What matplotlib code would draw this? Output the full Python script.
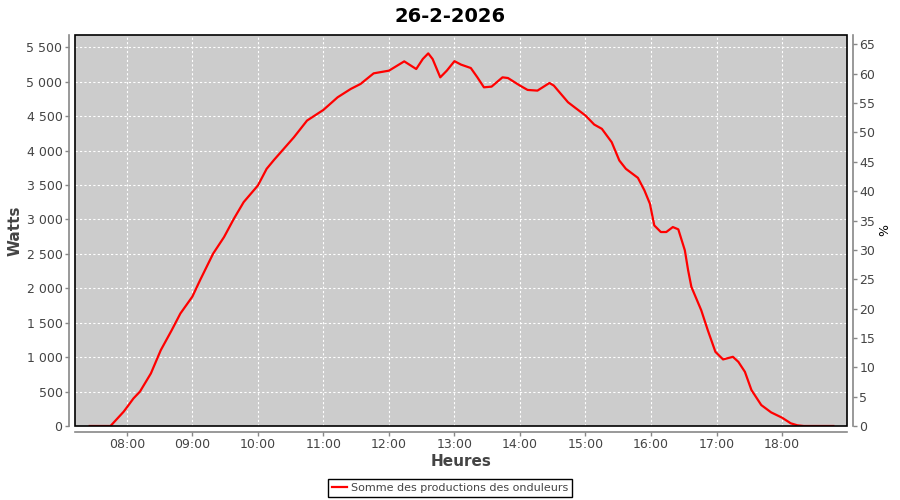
import matplotlib
matplotlib.use('Agg')
import matplotlib.pyplot as plt
import matplotlib.dates as mdates
from matplotlib.patches import Rectangle
from matplotlib.ticker import FuncFormatter, MultipleLocator
import pandas as pd

TITLE = '26-2-2026'
SERIES_LABEL = 'Somme des productions des onduleurs'

times = [
    '07:26', '07:45', '07:57', '08:00', '08:06', '08:12', '08:22', '08:31', '08:41', '08:49',
    '09:00', '09:07', '09:19', '09:29', '09:38', '09:47', '10:00', '10:08', '10:15', '10:21',
    '10:33', '10:45', '11:00', '11:13', '11:25', '11:34', '11:46', '12:00', '12:05', '12:14',
    '12:25', '12:31', '12:36', '12:40', '12:47', '12:53', '13:00', '13:06', '13:15', '13:21',
    '13:27', '13:34', '13:44', '13:49', '14:00', '14:07', '14:16', '14:27', '14:31', '14:44',
    '14:50', '15:00', '15:08', '15:15', '15:24', '15:31', '15:37', '15:48', '15:54', '15:59',
    '16:03', '16:09', '16:14', '16:20', '16:25', '16:31', '16:34', '16:37', '16:46', '16:52',
    '16:59', '17:06', '17:15', '17:20', '17:26', '17:32', '17:41', '17:50', '18:00', '18:08',
    '18:14', '18:20', '18:47',
]
watts = [
    0, 0, 207, 270, 400, 500, 764, 1100, 1390, 1634,
    1880, 2117, 2504, 2745, 3011, 3253, 3494, 3736, 3870, 3978,
    4195, 4437, 4592, 4775, 4896, 4969, 5123, 5162, 5210, 5297,
    5186, 5331, 5413, 5331, 5065, 5162, 5300, 5250, 5200, 5065,
    4920, 4930, 5065, 5055, 4945, 4882, 4872, 4983, 4945, 4703,
    4630, 4510, 4379, 4317, 4123, 3857, 3736, 3605, 3422, 3229,
    2914, 2818, 2818, 2890, 2857, 2552, 2262, 2020, 1682, 1392,
    1077, 967, 1005, 932, 787, 522, 304, 198, 121, 39,
    10, 0, 0,
]

GRAY_TXT = '#444444'
AXIS_COL = '#888888'

x = pd.to_datetime(['2026-02-26 ' + t for t in times])

fig = plt.figure(figsize=(9, 5), dpi=100)
ax = fig.add_axes([75 / 900, 74 / 500, 772 / 900, 391 / 500])
ax.set_facecolor('#CCCCCC')

ax.plot(x, watts, color='#FF0000', lw=1.6, label=SERIES_LABEL, zorder=5)
ax.set_xlim(pd.Timestamp('2026-02-26 07:12:30'), pd.Timestamp('2026-02-26 18:59:30'))
ax.set_ylim(0, 5680)

ax.yaxis.set_major_locator(MultipleLocator(500))
ax.yaxis.set_major_formatter(FuncFormatter(lambda v, p: '{:,.0f}'.format(v).replace(',', ' ')))
ax.xaxis.set_major_locator(mdates.HourLocator())
ax.xaxis.set_major_formatter(mdates.DateFormatter('%H:%M'))
ax.grid(True, color='white', ls=(0, (2, 2)), lw=0.8)
ax.set_axisbelow(True)

ax2 = ax.twinx()
ax2.set_ylim(0, 66.6)
ax2.yaxis.set_major_locator(MultipleLocator(5))

for a in (ax, ax2):
    for s in a.spines.values():
        s.set_visible(False)
    a.tick_params(colors=AXIS_COL, labelcolor=GRAY_TXT, labelsize=9, length=3, width=1, pad=2)
ax.spines['left'].set_visible(True)
ax.spines['bottom'].set_visible(True)
ax2.spines['right'].set_visible(True)
for s in (ax.spines['left'], ax.spines['bottom'], ax2.spines['right']):
    s.set_position(('outward', 4))
    s.set_color(AXIS_COL)
    s.set_linewidth(1.2)

ax.add_patch(Rectangle((0, 0), 1, 1, transform=ax.transAxes, fill=False,
                       edgecolor='black', lw=1.2, clip_on=False, zorder=10))

ax.set_xlabel('Heures', fontsize=11, fontweight='bold', color=GRAY_TXT, labelpad=2)
ax.set_ylabel('Watts', fontsize=11, fontweight='bold', color=GRAY_TXT, labelpad=3)
ax2.set_ylabel('%', fontsize=9, color='black', labelpad=2)

fig.suptitle(TITLE, x=0.5, y=0.985, fontsize=14, fontweight='bold', va='top')

leg = fig.legend(loc='center', bbox_to_anchor=(0.5, 0.024), fontsize=8, fancybox=False,
                 edgecolor='black', framealpha=1, handlelength=1.4, handletextpad=0.3,
                 borderpad=0.35, borderaxespad=0)
leg.get_frame().set_linewidth(1)
for t in leg.get_texts():
    t.set_color(GRAY_TXT)

fig.savefig('out.png', dpi=100)
